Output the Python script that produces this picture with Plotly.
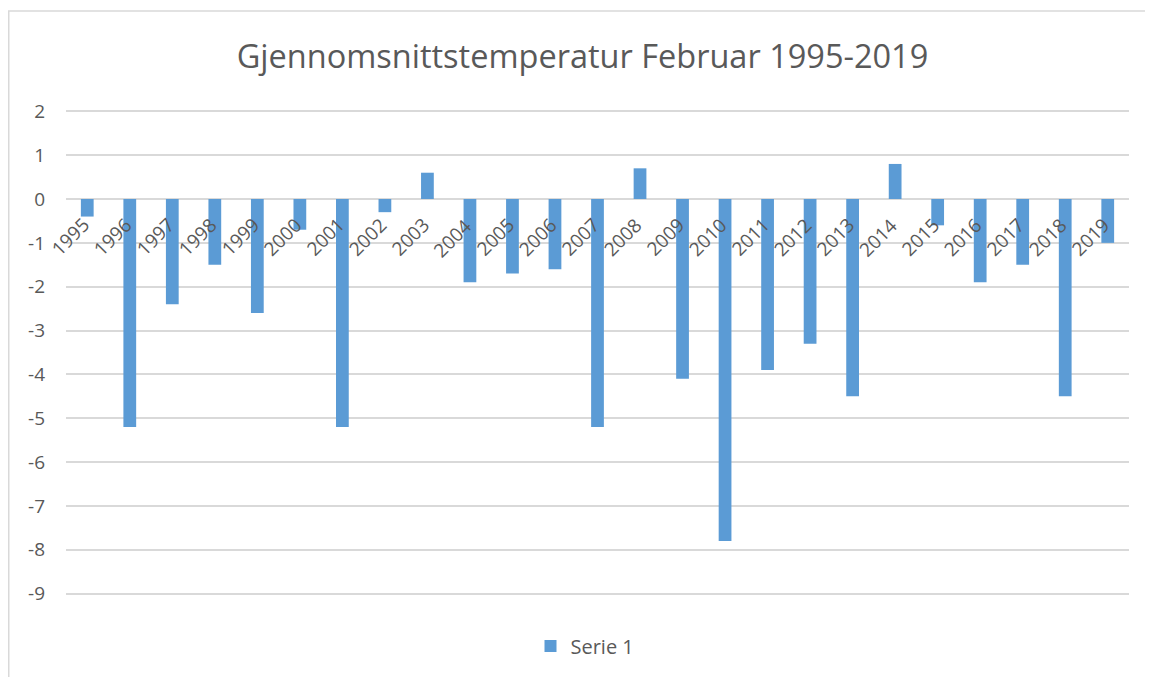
import plotly.graph_objects as go

years = [str(y) for y in range(1995, 2020)]
temps = [-0.4, -5.2, -2.4, -1.5, -2.6, -0.7, -5.2, -0.3, 0.6, -1.9,
         -1.7, -1.6, -5.2, 0.7, -4.1, -7.8, -3.9, -3.3, -4.5, 0.8,
         -0.6, -1.9, -1.5, -4.5, -1.0]
series_name = "Serie 1"
title_text = "Gjennomsnittstemperatur Februar 1995-2019"
y_ticks = list(range(-9, 3))
y_ticktext = [str(v) for v in y_ticks]

OFF = 8  # page body margin
W, H = 1153 - OFF, 677 - OFF
L, R, T, B = 66 - OFF, 24, 110 - OFF, 82
pw, ph = W - L - R, H - T - B

def px_to_paper_x(px):
    return (px - OFF - L) / pw

def px_to_paper_y(py):
    return (H - B - (py - OFF)) / ph

FONT = "Open Sans"
GRAY = "#595959"

fig = go.Figure()
fig.add_trace(go.Bar(
    x=years, y=temps, name=series_name,
    marker=dict(color="#5b9bd5", line=dict(width=0)),
    showlegend=True,
))

annotations = []
for i, yr in enumerate(years):
    annotations.append(dict(
        x=i, y=0, xref="x", yref="y", text=yr, showarrow=False,
        textangle=-45, xanchor="right", yanchor="top",
        xshift=10, yshift=-11,
        font=dict(family=FONT, size=19, color=GRAY),
    ))

fig.update_layout(
    width=W, height=H,
    margin=dict(l=L, r=R, t=T, b=B),
    paper_bgcolor="white", plot_bgcolor="white",
    title=dict(text=title_text, x=px_to_paper_x(582.5), xanchor="center",
               xref="paper",
               y=1 - (57 - OFF) / H, yref="container", yanchor="middle",
               font=dict(family=FONT, size=32.5, color=GRAY)),
    bargap=0.7,
    xaxis=dict(type="category", categoryorder="array", categoryarray=years,
               range=[-0.5, len(years) - 0.5],
               showticklabels=False, showgrid=False,
               zeroline=False, showline=False, ticks=""),
    yaxis=dict(range=[-9.03, 2.03], tickvals=y_ticks, ticktext=y_ticktext,
               showgrid=True, gridcolor="#d9d9d9", gridwidth=1.5,
               zeroline=False, showline=False, ticks="",
               ticklabelstandoff=20,
               tickfont=dict(family=FONT, size=19, color=GRAY)),
    legend=dict(orientation="h", x=px_to_paper_x(585), xanchor="center",
                y=px_to_paper_y(646), yanchor="middle",
                font=dict(family=FONT, size=20, color=GRAY)),
    annotations=annotations,
    shapes=[dict(type="rect", xref="paper", yref="paper",
                 x0=px_to_paper_x(8.75), x1=px_to_paper_x(1170),
                 y0=px_to_paper_y(700), y1=px_to_paper_y(11),
                 line=dict(color="#d9d9d9", width=1.5), layer="below")],
)

fig.write_html("out.html")
